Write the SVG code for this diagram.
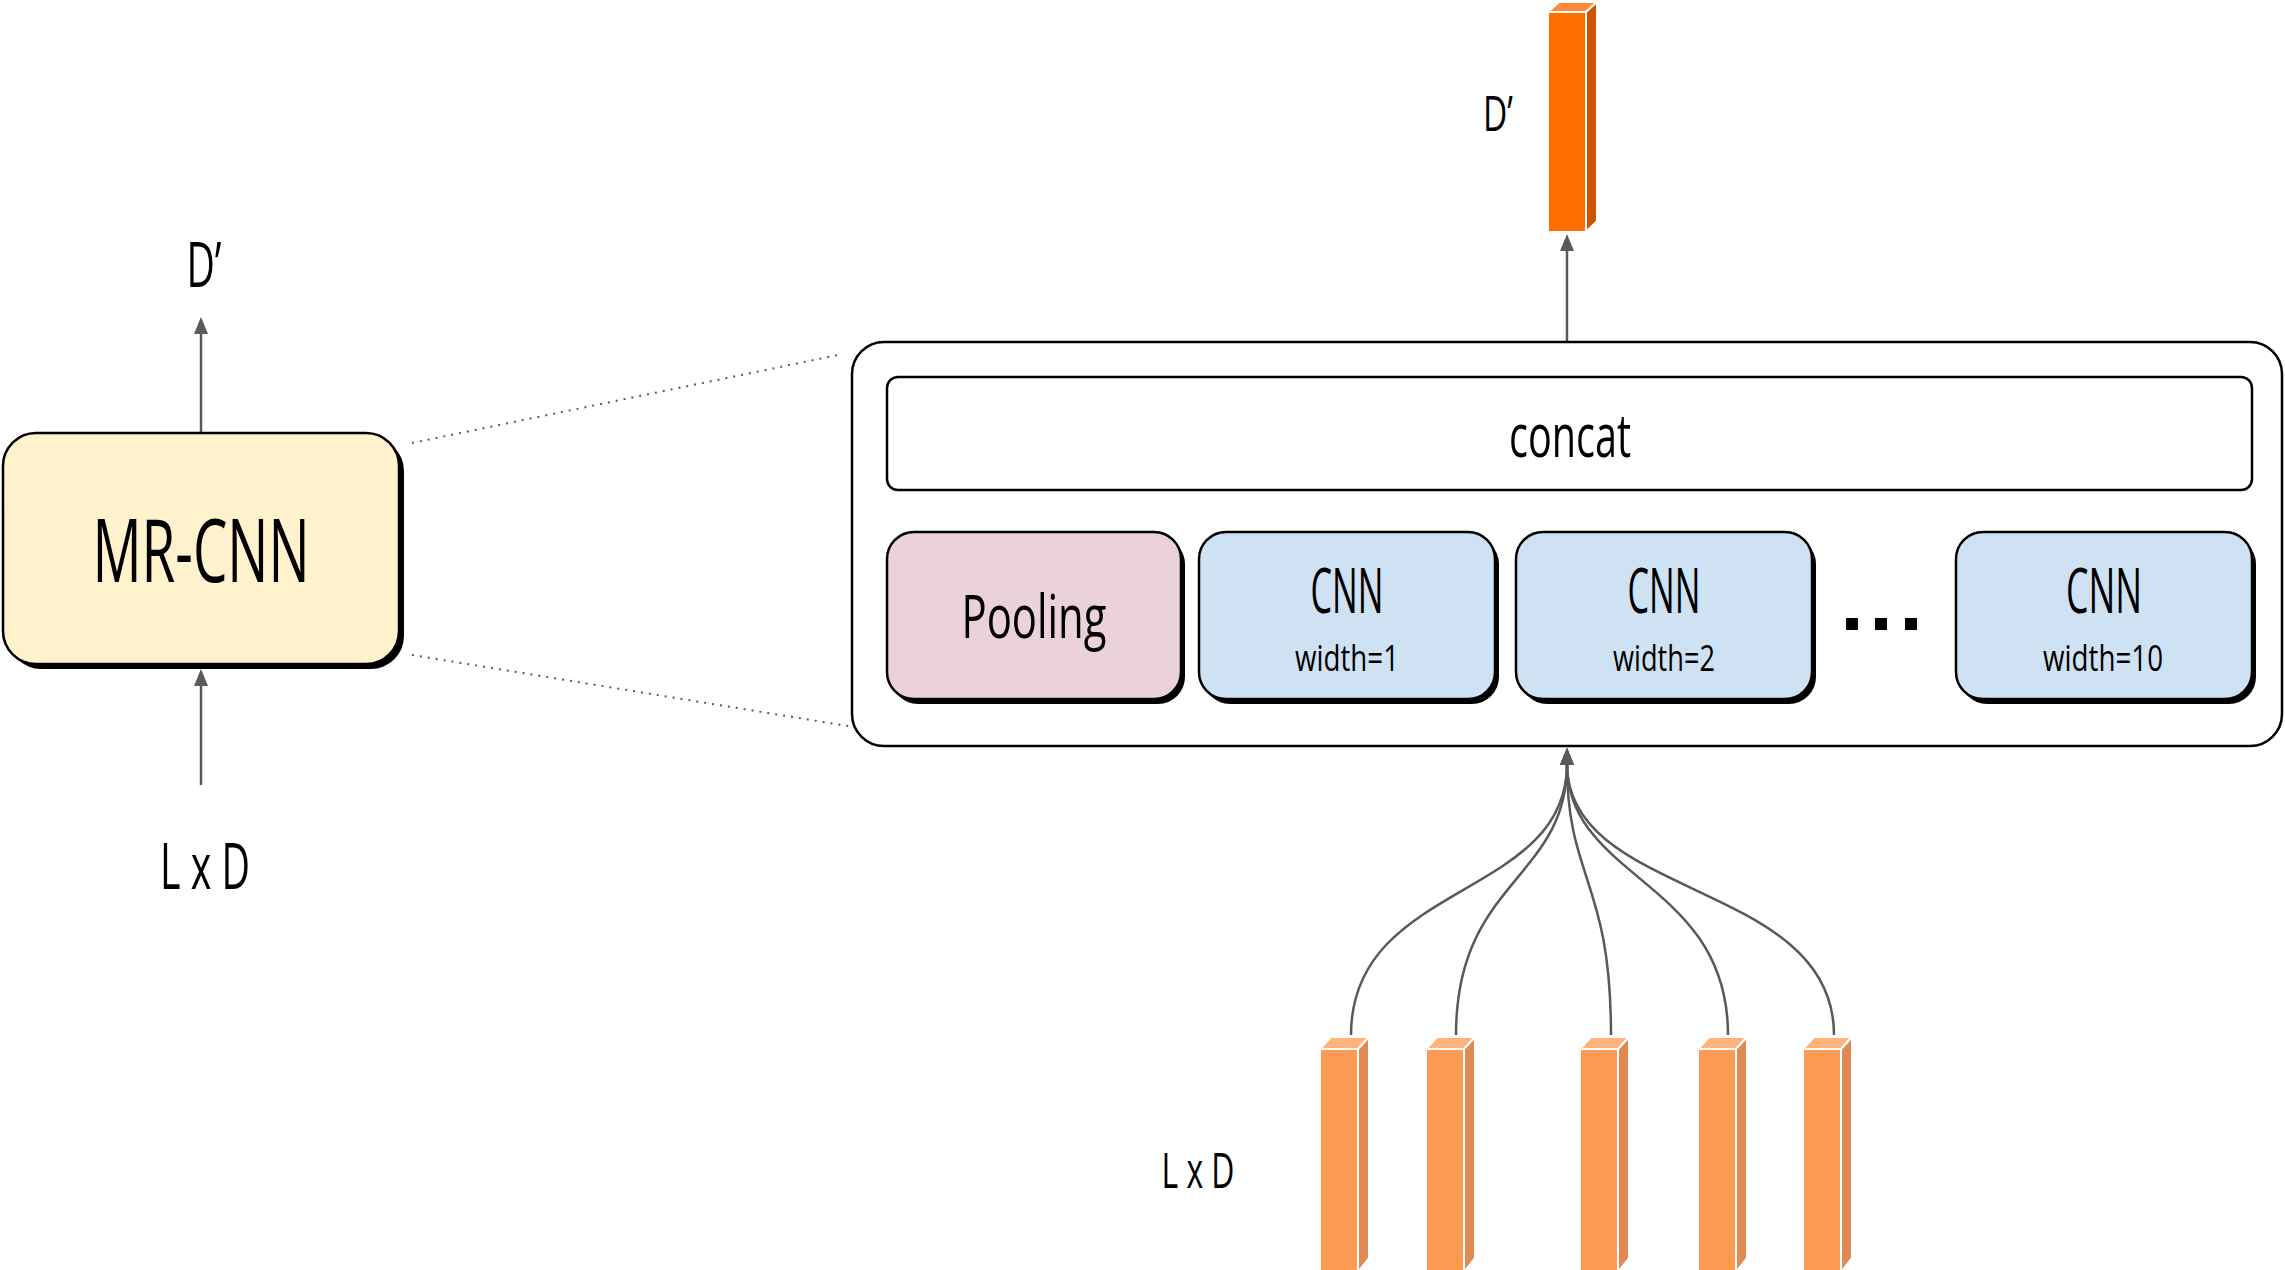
<svg xmlns="http://www.w3.org/2000/svg" width="2285" height="1270" viewBox="0 0 2285 1270">
<defs>
<style>
.t{font-family:'Open Sans','Liberation Sans',Arial,sans-serif;font-weight:400;fill:#000;text-anchor:middle}
.box{stroke:#000;stroke-width:2.5}
.shadow{fill:#000}
.conn{fill:none;stroke:#595959;stroke-width:2.5}
.dot{fill:none;stroke:#595959;stroke-width:2;stroke-dasharray:2 6}
.bf{fill:#FF9A52;stroke:#fff;stroke-width:2}
.bs{fill:#E08A52;stroke:#fff;stroke-width:2}
.bt{fill:#FFB27A;stroke:#fff;stroke-width:2}
</style>
<marker id="ah" markerUnits="userSpaceOnUse" markerWidth="17" markerHeight="14" refX="1" refY="7" orient="auto" viewBox="0 0 17 14">
<path d="M0,0 L17,7 L0,14 z" fill="#595959"/>
</marker>
</defs>
<rect width="2285" height="1270" fill="#fff"/>

<g id="connectors">
<path class="dot" d="M412,443 L843,354"/>
<path class="dot" d="M412,655 L866,729"/>
<path class="conn" d="M201,432 L201,333" marker-end="url(#ah)"/>
<path class="conn" d="M201,785 L201,685" marker-end="url(#ah)"/>
<path class="conn" d="M1567,342 L1567,250" marker-end="url(#ah)"/>
<path class="conn" d="M1351,1035 C1351,880 1567,900 1567,764" marker-end="url(#ah)"/>
<path class="conn" d="M1456,1035 C1456,880 1567,880 1567,764" marker-end="url(#ah)"/>
<path class="conn" d="M1611,1035 C1611,880 1567,880 1567,764" marker-end="url(#ah)"/>
<path class="conn" d="M1728,1035 C1728,880 1567,880 1567,764" marker-end="url(#ah)"/>
<path class="conn" d="M1834,1035 C1834,880 1567,900 1567,764" marker-end="url(#ah)"/>
</g>

<g id="mrcnn">
<rect class="shadow" x="8" y="438" width="396" height="231" rx="33"/>
<rect class="box" x="3" y="433" width="396" height="231" rx="33" fill="#FFF2CC"/>
<text class="t" x="201" y="582" font-size="87" textLength="217" lengthAdjust="spacingAndGlyphs">MR-CNN</text>
</g>

<g id="label-dprime-left">
<text class="t" x="204" y="287" font-size="63" textLength="35" lengthAdjust="spacingAndGlyphs">D’</text>
</g>
<g id="label-lxd-left">
<text class="t" x="205" y="889" font-size="64" textLength="90" lengthAdjust="spacingAndGlyphs">L x D</text>
</g>

<g id="container">
<rect class="box" x="852" y="342" width="1430" height="404" rx="32" fill="#fff"/>
</g>

<g id="concat">
<rect class="box" x="887" y="377" width="1365" height="113" rx="11" fill="#fff"/>
<text class="t" x="1570" y="457" font-size="60" textLength="122" lengthAdjust="spacingAndGlyphs">concat</text>
</g>

<g id="pooling">
<rect class="shadow" x="891" y="537" width="294" height="167" rx="27"/>
<rect class="box" x="887" y="532" width="294" height="167" rx="27" fill="#EAD1DC"/>
<text class="t" x="1034" y="638" font-size="60" textLength="145" lengthAdjust="spacingAndGlyphs">Pooling</text>
</g>

<g id="cnn1">
<rect class="shadow" x="1203" y="537" width="296" height="167" rx="27"/>
<rect class="box" x="1199" y="532" width="296" height="167" rx="27" fill="#CFE2F3"/>
<text class="t" x="1347" y="613" font-size="62" textLength="73" lengthAdjust="spacingAndGlyphs">CNN</text>
<text class="t" x="1347" y="671" font-size="36" textLength="104" lengthAdjust="spacingAndGlyphs">width=1</text>
</g>

<g id="cnn2">
<rect class="shadow" x="1520" y="537" width="296" height="167" rx="27"/>
<rect class="box" x="1516" y="532" width="296" height="167" rx="27" fill="#CFE2F3"/>
<text class="t" x="1664" y="613" font-size="62" textLength="73" lengthAdjust="spacingAndGlyphs">CNN</text>
<text class="t" x="1664" y="671" font-size="36" textLength="102" lengthAdjust="spacingAndGlyphs">width=2</text>
</g>

<g id="ellipsis">
<rect x="1846" y="618" width="12" height="12" fill="#000"/>
<rect x="1875" y="618" width="12" height="12" fill="#000"/>
<rect x="1905" y="618" width="12" height="12" fill="#000"/>
</g>

<g id="cnn10">
<rect class="shadow" x="1960" y="537" width="296" height="167" rx="27"/>
<rect class="box" x="1956" y="532" width="296" height="167" rx="27" fill="#CFE2F3"/>
<text class="t" x="2104" y="613" font-size="62" textLength="76" lengthAdjust="spacingAndGlyphs">CNN</text>
<text class="t" x="2103" y="671" font-size="36" textLength="120" lengthAdjust="spacingAndGlyphs">width=10</text>
</g>

<g id="output-vector">
<polygon points="1548,12 1586,12 1597,2 1559,2" fill="#FF8A3D" stroke="#fff" stroke-width="2"/>
<polygon points="1586,12 1597,2 1597,221 1586,232" fill="#CC5500" stroke="#fff" stroke-width="2"/>
<rect x="1548" y="12" width="38" height="220" fill="#FF6D01" stroke="#fff" stroke-width="2"/>
<text class="t" x="1498" y="131" font-size="50" textLength="30" lengthAdjust="spacingAndGlyphs">D’</text>
</g>

<g id="input-vectors">
<g id="vec1">
<polygon class="bt" points="1320,1049 1358,1049 1369,1037 1331,1037"/>
<polygon class="bs" points="1358,1049 1369,1037 1369,1258 1358,1272"/>
<rect class="bf" x="1320" y="1049" width="38" height="225"/>
</g>
<g id="vec2">
<polygon class="bt" points="1426,1049 1464,1049 1475,1037 1437,1037"/>
<polygon class="bs" points="1464,1049 1475,1037 1475,1258 1464,1272"/>
<rect class="bf" x="1426" y="1049" width="38" height="225"/>
</g>
<g id="vec3">
<polygon class="bt" points="1580,1049 1618,1049 1629,1037 1591,1037"/>
<polygon class="bs" points="1618,1049 1629,1037 1629,1258 1618,1272"/>
<rect class="bf" x="1580" y="1049" width="38" height="225"/>
</g>
<g id="vec4">
<polygon class="bt" points="1698,1049 1736,1049 1747,1037 1709,1037"/>
<polygon class="bs" points="1736,1049 1747,1037 1747,1258 1736,1272"/>
<rect class="bf" x="1698" y="1049" width="38" height="225"/>
</g>
<g id="vec5">
<polygon class="bt" points="1803,1049 1841,1049 1852,1037 1814,1037"/>
<polygon class="bs" points="1841,1049 1852,1037 1852,1258 1841,1272"/>
<rect class="bf" x="1803" y="1049" width="38" height="225"/>
</g>
<text class="t" x="1198" y="1188" font-size="50" textLength="73" lengthAdjust="spacingAndGlyphs">L x D</text>
</g>
</svg>
